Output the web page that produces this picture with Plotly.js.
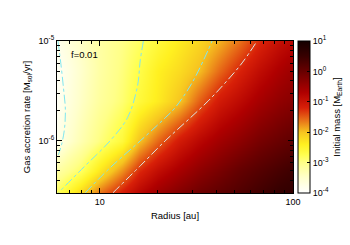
<!DOCTYPE html>
<html>
<head>
<meta charset="utf-8">
<script src="https://cdn.plot.ly/plotly-3.0.1.min.js"></script>
<style>html,body{margin:0;padding:0;background:#fff;}#chart{width:350px;height:245px;}</style>
</head>
<body>
<div id="chart"></div>
<script>
// Radius grid [au] (columns) and gas accretion rate [Msol/yr] (rows)
var radius = [6, 7, 8, 10, 13, 16, 20, 26, 33, 42, 53, 67, 85, 100];
var accretionRate = [3e-7, 5e-7, 1e-6, 2.5e-6, 5e-6, 1e-5];
// log10 of initial mass [M_Earth], one row per accretion rate
var logMass = [
  [-2.8, -2.45, -2.15, -1.6, -1.15, -0.8, -0.5, -0.25, -0.05, 0.1, 0.25, 0.4, 0.55, 0.6],
  [-3.2, -3.0, -2.82, -2.3, -1.75, -1.25, -0.9, -0.6, -0.35, -0.15, 0.05, 0.2, 0.35, 0.45],
  [-3.8, -3.5, -3.3, -2.95, -2.6, -2.0, -1.55, -1.1, -0.8, -0.55, -0.35, -0.15, 0.0, 0.1],
  [-3.9, -3.65, -3.45, -3.15, -2.9, -2.6, -2.35, -2.0, -1.5, -1.1, -0.85, -0.6, -0.4, -0.3],
  [-3.9, -3.7, -3.5, -3.2, -2.95, -2.7, -2.4, -2.2, -1.95, -1.55, -1.2, -0.9, -0.65, -0.5],
  [-3.8, -3.6, -3.45, -3.2, -3.0, -2.83, -2.6, -2.35, -2.15, -1.9, -1.6, -1.25, -0.95, -0.8]
];
// dashed curves
var curveL_R = [6.07, 6.25, 6.48, 6.63, 6.55, 6.33, 6.1];
var curveL_M = [1e-5, 6.46e-6, 3.39e-6, 2.04e-6, 1.29e-6, 9.1e-7, 7.24e-7];
var curveA_R = [16.8, 16.2, 15.6, 13.9, 11.3, 8.3, 6.1];
var curveA_M = [1e-5, 6.46e-6, 3.39e-6, 1.70e-6, 1e-6, 5.5e-7, 3.02e-7];
var curveB_R = [8.41, 11.3, 16.2, 21.8, 24.5, 30.0, 36.4, 38.1];
var curveB_M = [3.02e-7, 5.37e-7, 1e-6, 1.70e-6, 2.14e-6, 3.80e-6, 8.13e-6, 1e-5];
var curveC_R = [11.7, 16.2, 21.8, 29.4, 36.4, 44.5, 54.5, 65.2];
var curveC_M = [3.02e-7, 5.62e-7, 1e-6, 1.70e-6, 2.51e-6, 3.80e-6, 6.03e-6, 1e-5];

var xMinor = [7, 8, 9, 20, 30, 40, 50, 60, 70, 80, 90];
var xMajor = [10, 100];
var xMajorText = ['10', '100'];
var yMinor = [4e-7, 5e-7, 6e-7, 7e-7, 8e-7, 9e-7, 2e-6, 3e-6, 4e-6, 5e-6, 6e-6, 7e-6, 8e-6, 9e-6];
var yMajor = [1e-6, 1e-5];
var yMajorText = ['10<sup>-6</sup>', '10<sup>-5</sup>'];
var cbVals = [-4, -3, -2, -1, 0, 1];
var cbText = ['10<sup>-4</sup>', '10<sup>-3</sup>', '10<sup>-2</sup>', '10<sup>-1</sup>', '10<sup>0</sup>', '10<sup>1</sup>'];

var font = 'Liberation Sans, Arial, sans-serif';
var colorscale = [
  [0.0, '#ffffff'], [0.1, '#ffffcc'], [0.2, '#ffff88'], [0.25, '#ffff50'], [0.32, '#fff020'],
  [0.4, '#f6c420'], [0.48, '#e87018'], [0.56, '#d82008'], [0.66, '#b00000'],
  [0.8, '#680000'], [0.9, '#380000'], [1.0, '#140000']
];

function curve(xs, ys, color) {
  return {type: 'scatter', mode: 'lines', x: xs, y: ys, hoverinfo: 'skip', showlegend: false,
    line: {color: color, width: 1, dash: 'dashdot', shape: 'spline'}};
}

var data = [
  {type: 'heatmap', x: radius, y: accretionRate, z: logMass, zsmooth: 'best',
   zmin: -4, zmax: 1, colorscale: colorscale,
   colorbar: {x: 1.021, xanchor: 'left', y: 0, yanchor: 'bottom', len: 1, lenmode: 'fraction',
     thickness: 12, outlinewidth: 1, outlinecolor: '#000', xpad: 0, ypad: 0,
     tickmode: 'array', tickvals: cbVals, ticktext: cbText, ticks: 'inside', ticklen: 3,
     tickcolor: '#000', tickfont: {family: font, size: 9, color: '#000'},
     title: {text: 'Initial mass [M<sub>Earth</sub>]', side: 'right', font: {family: font, size: 9.5, color: '#000'}}}},
  curve(curveL_R, curveL_M, '#80e6f0'),
  curve(curveA_R, curveA_M, '#80e6f0'),
  curve(curveB_R, curveB_M, '#80e6f0'),
  curve(curveC_R, curveC_M, '#dce8e8')
];

var layout = {
  width: 350, height: 245,
  margin: {l: 57, r: 57, t: 41, b: 52, autoexpand: false},
  paper_bgcolor: '#fff', plot_bgcolor: '#fff',
  font: {family: font, size: 9, color: '#000'},
  xaxis: {type: 'log', range: [Math.log10(6), 2], tickmode: 'array', tickvals: xMajor, ticktext: xMajorText,
    ticks: 'inside', ticklen: 5, tickcolor: '#000', showline: true, linecolor: '#000', linewidth: 1, mirror: 'ticks',
    showgrid: true, gridcolor: 'rgba(60,60,60,0.5)', griddash: 'dot', gridwidth: 1, zeroline: false,
    tickfont: {family: font, size: 9},
    minor: {tickmode: 'array', tickvals: xMinor, ticks: 'inside', ticklen: 3, tickcolor: '#000',
      showgrid: true, gridcolor: 'rgba(60,60,60,0.45)', griddash: 'dot', gridwidth: 1},
    title: {text: 'Radius [au]', font: {family: font, size: 9.5}, standoff: 6}},
  yaxis: {type: 'log', range: [Math.log10(3e-7), -5], tickmode: 'array', tickvals: yMajor, ticktext: yMajorText,
    ticks: 'inside', ticklen: 5, tickcolor: '#000', showline: true, linecolor: '#000', linewidth: 1, mirror: 'ticks',
    showgrid: true, gridcolor: 'rgba(60,60,60,0.5)', griddash: 'dot', gridwidth: 1, zeroline: false,
    tickfont: {family: font, size: 9},
    minor: {tickmode: 'array', tickvals: yMinor, ticks: 'inside', ticklen: 3, tickcolor: '#000', showgrid: false},
    title: {text: 'Gas accretion rate [M<sub>sol</sub>/yr]', font: {family: font, size: 9.5}, standoff: 6}},
  annotations: [{text: 'f=0.01', xref: 'paper', yref: 'paper', x: 0.05, y: 0.908, xanchor: 'left', yanchor: 'middle',
    showarrow: false, font: {family: font, size: 9.5, color: '#000'}}]
};

Plotly.newPlot('chart', data, layout, {displayModeBar: false, staticPlot: true});
</script>
</body>
</html>
